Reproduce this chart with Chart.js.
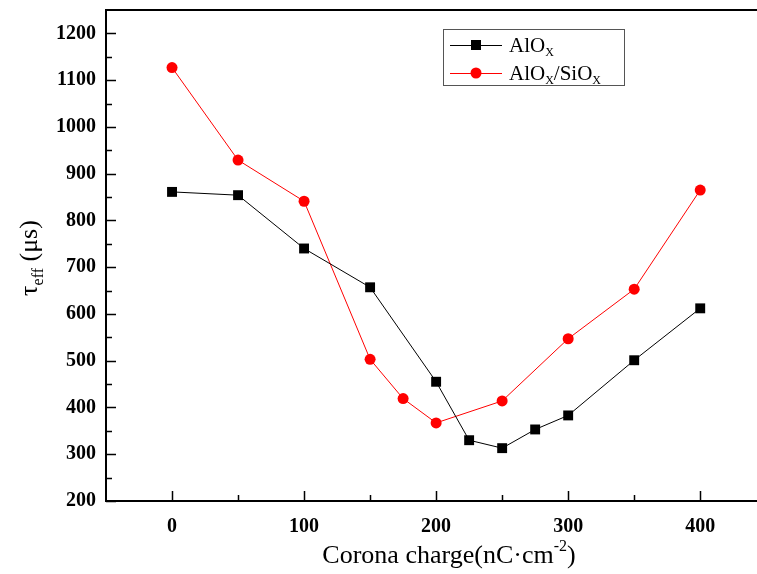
<!DOCTYPE html>
<html>
<head>
<meta charset="utf-8">
<script src="https://cdn.jsdelivr.net/npm/chart.js@4/dist/chart.umd.min.js"></script>
<style>
  html, body { margin: 0; padding: 0; background: #fff; }
  #wrap { width: 757px; height: 574px; }
</style>
</head>
<body>
<div id="wrap"><canvas id="c" width="757" height="574"></canvas></div>
<script>
// corona charge values (nC/cm^2)
const chargeAlOx = [0, 50, 100, 150, 200, 225, 250, 275, 300, 350, 400];
const tauAlOx = [861, 854, 740, 657, 455, 330, 313, 353, 383, 501, 612];

const chargeStack = [0, 50, 100, 150, 175, 200, 250, 300, 350, 400];
const tauStack = [1127, 929, 841, 503, 419, 367, 414, 547, 653, 865];

const xTicks = [0, 50, 100, 150, 200, 250, 300, 350, 400];
const yTicks = [200, 250, 300, 350, 400, 450, 500, 550, 600, 650, 700, 750, 800, 850, 900, 950, 1000, 1050, 1100, 1150, 1200];

const serif = '"Liberation Serif", "Times New Roman", serif';

// no label overhang padding, so the plot area sits where the figure has it
function noPad(s) {
    s.paddingTop = 0;
    s.paddingBottom = 0;
    s.paddingLeft = 0;
    s.paddingRight = 0;
}

// draws frame, inward ticks, titles and legend (subscripts need manual text)
const decorations = {
    id: 'decorations',
    afterDraw(chart) {
        const ctx = chart.ctx;
        const a = chart.chartArea;
        const xs = chart.scales.x;
        const ys = chart.scales.y;
        ctx.save();
        ctx.strokeStyle = '#000';
        ctx.lineWidth = 2;
        ctx.beginPath();
        ctx.moveTo(a.right + 2, a.top);
        ctx.lineTo(a.left, a.top);
        ctx.lineTo(a.left, a.bottom);
        ctx.lineTo(a.right + 2, a.bottom);
        ctx.stroke();

        ctx.lineWidth = 1.5;
        ctx.beginPath();
        xTicks.forEach(v => {
            const px = Math.round(xs.getPixelForValue(v)) + 0.5;
            const len = v % 100 === 0 ? 10 : 6;
            ctx.moveTo(px, a.bottom);
            ctx.lineTo(px, a.bottom - len);
        });
        yTicks.forEach(v => {
            const py = Math.round(ys.getPixelForValue(v)) + 0.5;
            const len = v % 100 === 0 ? 10 : 6;
            ctx.moveTo(a.left, py);
            ctx.lineTo(a.left + len, py);
        });
        ctx.stroke();

        // x title
        ctx.fillStyle = '#000';
        ctx.textBaseline = 'alphabetic';
        ctx.textAlign = 'left';
        const mainFont = '26px ' + serif;
        const supFont = '16px ' + serif;
        ctx.font = mainFont;
        const p1 = 'Corona charge(nC\u00b7cm';
        const w1 = ctx.measureText(p1).width;
        ctx.font = supFont;
        const wSup = ctx.measureText('-2').width;
        ctx.font = mainFont;
        const w3 = ctx.measureText(')').width;
        let tx = 449 - (w1 + wSup + w3) / 2;
        const ty = 563;
        ctx.fillText(p1, tx, ty);
        ctx.font = supFont;
        ctx.fillText('-2', tx + w1, ty - 12);
        ctx.font = mainFont;
        ctx.fillText(')', tx + w1 + wSup, ty);

        // y title
        ctx.save();
        ctx.translate(37, 258);
        ctx.rotate(-Math.PI / 2);
        ctx.font = mainFont;
        const t1 = '\u03c4';
        const wt1 = ctx.measureText(t1).width;
        ctx.font = supFont;
        const wsub = ctx.measureText('eff').width;
        ctx.font = mainFont;
        const t3 = ' (\u03bcs)';
        const wt3 = ctx.measureText(t3).width;
        let sx = -(wt1 + wsub + wt3) / 2;
        ctx.fillText(t1, sx, 0);
        ctx.font = supFont;
        ctx.fillText('eff', sx + wt1, 6);
        ctx.font = mainFont;
        ctx.fillText(t3, sx + wt1 + wsub, 0);
        ctx.restore();

        // legend
        ctx.lineWidth = 1;
        ctx.strokeStyle = '#555';
        ctx.strokeRect(443.5, 29.5, 181, 56);
        const rows = [
            { y: 45, color: '#000', style: 'rect', text: 'AlO', tail: '' },
            { y: 73, color: '#ff0000', style: 'circle', text: 'AlO', tail: '/SiO' }
        ];
        rows.forEach(r => {
            ctx.strokeStyle = r.color;
            ctx.fillStyle = r.color;
            ctx.beginPath();
            ctx.moveTo(450, r.y + 0.5);
            ctx.lineTo(502, r.y + 0.5);
            ctx.stroke();
            if (r.style === 'rect') {
                ctx.fillRect(471, r.y - 5, 10, 10);
            } else {
                ctx.beginPath();
                ctx.arc(476, r.y, 5.5, 0, Math.PI * 2);
                ctx.fill();
            }
            ctx.fillStyle = '#000';
            ctx.font = '21px ' + serif;
            let lx = 509;
            ctx.fillText(r.text, lx, r.y + 7);
            lx += ctx.measureText(r.text).width;
            ctx.font = '12px ' + serif;
            ctx.fillText('X', lx, r.y + 11);
            lx += ctx.measureText('X').width;
            if (r.tail) {
                ctx.font = '21px ' + serif;
                ctx.fillText(r.tail, lx, r.y + 7);
                lx += ctx.measureText(r.tail).width;
                ctx.font = '12px ' + serif;
                ctx.fillText('X', lx, r.y + 11);
            }
        });
        ctx.restore();
    }
};

new Chart(document.getElementById('c'), {
    type: 'line',
    data: {
        datasets: [
            {
                label: 'AlOx',
                data: chargeAlOx.map((x, i) => ({ x: x, y: tauAlOx[i] })),
                borderColor: '#000',
                backgroundColor: '#000',
                borderWidth: 1,
                pointStyle: 'rect',
                pointRadius: 7,
                pointBorderWidth: 0,
                tension: 0
            },
            {
                label: 'AlOx/SiOx',
                data: chargeStack.map((x, i) => ({ x: x, y: tauStack[i] })),
                borderColor: '#ff0000',
                backgroundColor: '#ff0000',
                borderWidth: 1,
                pointStyle: 'circle',
                pointRadius: 5.5,
                pointBorderWidth: 0,
                tension: 0
            }
        ]
    },
    options: {
        responsive: false,
        animation: false,
        layout: { autoPadding: false, padding: { top: 10, right: 0, left: 0, bottom: 0 } },
        plugins: {
            legend: { display: false },
            tooltip: { enabled: false }
        },
        scales: {
            x: {
                type: 'linear',
                min: -50,
                max: 443,
                afterBuildTicks: s => { s.ticks = xTicks.map(v => ({ value: v })); },
                afterFit: s => { s.height = 73; noPad(s); },
                grid: { display: false, drawTicks: false },
                border: { display: false },
                ticks: {
                    autoSkip: false,
                    maxRotation: 0,
                    padding: 14,
                    color: '#000',
                    font: { family: serif, size: 20, weight: 'bold' },
                    callback: v => (v % 100 === 0 ? v : '')
                }
            },
            y: {
                min: 200,
                max: 1250,
                afterBuildTicks: s => { s.ticks = yTicks.map(v => ({ value: v })); },
                afterFit: s => { s.width = 106; noPad(s); },
                grid: { display: false, drawTicks: false },
                border: { display: false },
                ticks: {
                    autoSkip: false,
                    padding: 10,
                    color: '#000',
                    font: { family: serif, size: 20, weight: 'bold' },
                    callback: v => (v % 100 === 0 ? v : '')
                }
            }
        }
    },
    plugins: [decorations]
});
</script>
</body>
</html>
